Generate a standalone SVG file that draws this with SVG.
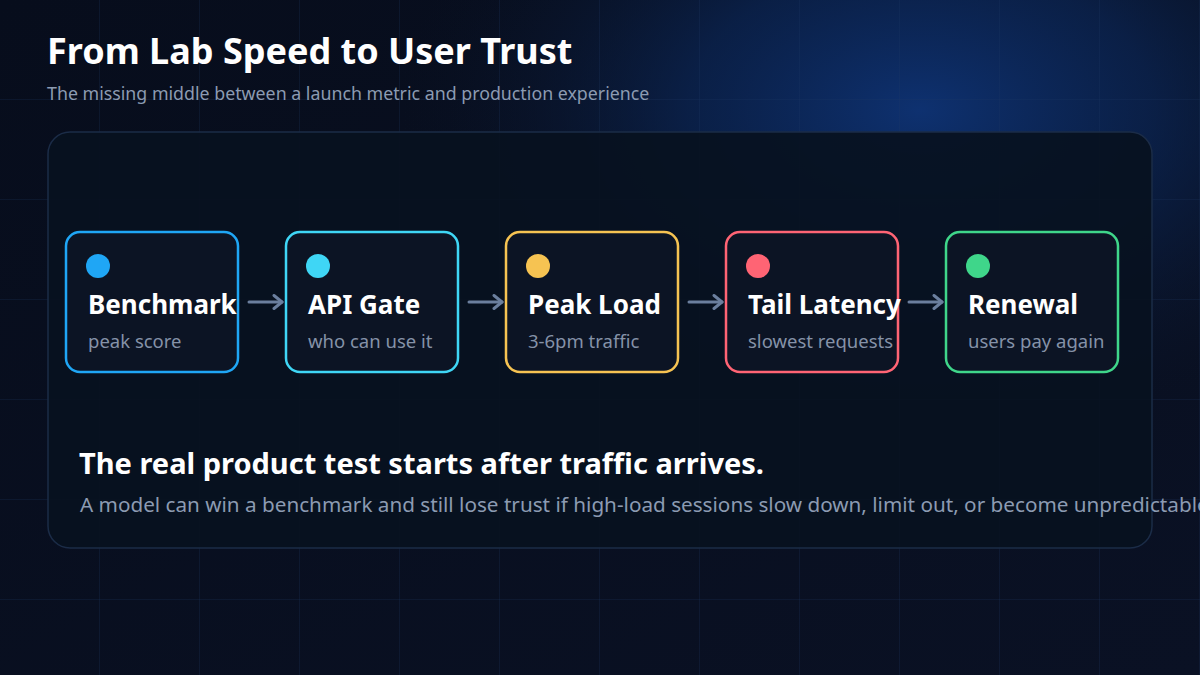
<svg xmlns="http://www.w3.org/2000/svg" width="1200" height="675" viewBox="0 0 1200 675">
<defs>
<radialGradient id="glow" cx="920" cy="110" r="520" gradientUnits="userSpaceOnUse" gradientTransform="translate(920 110) scale(1 0.62) translate(-920 -110)">
<stop offset="0" stop-color="#0e3170" stop-opacity="1"/>
<stop offset="0.45" stop-color="#0b2656" stop-opacity="0.7"/>
<stop offset="1" stop-color="#0a1428" stop-opacity="0"/>
</radialGradient>
<linearGradient id="bg" x1="0" y1="0" x2="1" y2="1">
<stop offset="0" stop-color="#070d1c"/>
<stop offset="1" stop-color="#0a1124"/>
</linearGradient>
<pattern id="grid" width="100" height="100" patternUnits="userSpaceOnUse">
<path d="M100 0V100M0 100H100" fill="none" stroke="#1c3a66" stroke-opacity="0.45" stroke-width="1"/>
</pattern>
<marker id="chev" viewBox="0 0 12 16" refX="10" refY="8" markerWidth="12" markerHeight="16" markerUnits="userSpaceOnUse" orient="auto">
<path d="M2 1.5L10 8L2 14.5" fill="none" stroke="#6b7f9e" stroke-width="3" stroke-linecap="round" stroke-linejoin="round"/>
</marker>
</defs>
<style>
.title{font-family:"Noto Sans","Open Sans",sans-serif;font-weight:700;fill:#ffffff}
.sub{font-family:"Noto Sans","Open Sans",sans-serif;fill:#8c9bb2}
.box{fill:#0c1424;stroke-width:2.5}
.nt{font-family:"Noto Sans","Open Sans",sans-serif;font-weight:700;font-size:26px;fill:#ffffff}
.ns{font-family:"Noto Sans","Open Sans",sans-serif;font-size:18.5px;fill:#8592a8}
.conn{stroke:#6b7f9e;stroke-width:3;fill:none;stroke-linecap:round}
</style>
<rect width="1200" height="675" fill="url(#bg)"/>
<rect width="1200" height="675" fill="url(#glow)"/>
<rect width="1200" height="675" fill="url(#grid)"/>
<text class="title" x="47" y="64" font-size="36">From Lab Speed to User Trust</text>
<text class="sub" x="47" y="100" font-size="17.8">The missing middle between a launch metric and production experience</text>
<rect x="48" y="132" width="1104" height="416" rx="22" fill="#08111f" fill-opacity="0.92" stroke="#1b2c47" stroke-width="1.5"/>
<g id="connectors">
<line class="conn" x1="249" y1="302" x2="282" y2="302" marker-end="url(#chev)"/>
<line class="conn" x1="469" y1="302" x2="502" y2="302" marker-end="url(#chev)"/>
<line class="conn" x1="689" y1="302" x2="722" y2="302" marker-end="url(#chev)"/>
<line class="conn" x1="909" y1="302" x2="942" y2="302" marker-end="url(#chev)"/>
</g>
<g id="benchmark">
<rect class="box" x="66" y="232" width="172" height="140" rx="14" stroke="#1fa6f5"/>
<circle cx="98" cy="266" r="12" fill="#1fa6f5"/>
<text class="nt" x="88" y="314">Benchmark</text>
<text class="ns" x="88" y="348">peak score</text>
</g>
<g id="api-gate">
<rect class="box" x="286" y="232" width="172" height="140" rx="14" stroke="#3fd6f5"/>
<circle cx="318" cy="266" r="12" fill="#3fd6f5"/>
<text class="nt" x="308" y="314">API Gate</text>
<text class="ns" x="308" y="348">who can use it</text>
</g>
<g id="peak-load">
<rect class="box" x="506" y="232" width="172" height="140" rx="14" stroke="#f6c352"/>
<circle cx="538" cy="266" r="12" fill="#f6c352"/>
<text class="nt" x="528" y="314">Peak Load</text>
<text class="ns" x="528" y="348">3-6pm traffic</text>
</g>
<g id="tail-latency">
<rect class="box" x="726" y="232" width="172" height="140" rx="14" stroke="#ff6474"/>
<circle cx="758" cy="266" r="12" fill="#ff6474"/>
<text class="nt" x="748" y="314">Tail Latency</text>
<text class="ns" x="748" y="348">slowest requests</text>
</g>
<g id="renewal">
<rect class="box" x="946" y="232" width="172" height="140" rx="14" stroke="#3fd68a"/>
<circle cx="978" cy="266" r="12" fill="#3fd68a"/>
<text class="nt" x="968" y="314">Renewal</text>
<text class="ns" x="968" y="348">users pay again</text>
</g>
<text class="title" x="79" y="474" font-size="29">The real product test starts after traffic arrives.</text>
<text class="sub" x="80" y="512" font-size="20.7">A model can win a benchmark and still lose trust if high-load sessions slow down, limit out, or become unpredictable.</text>
</svg>
